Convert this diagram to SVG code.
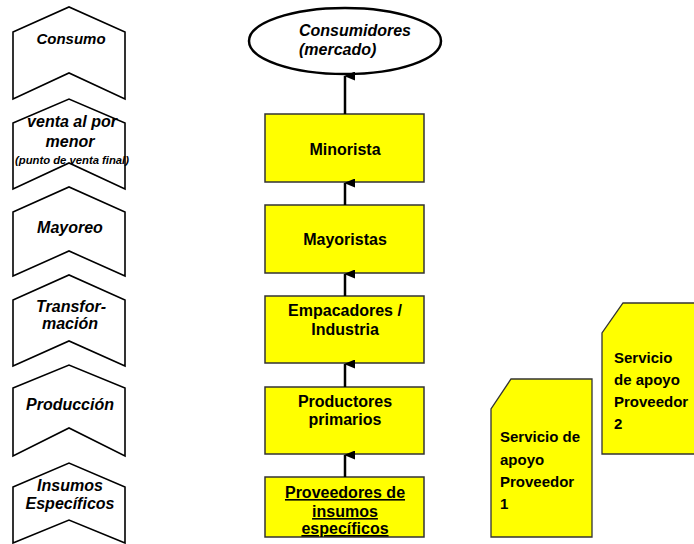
<svg xmlns="http://www.w3.org/2000/svg" width="694" height="544" viewBox="0 0 694 544">
<defs>
<marker id="ah" markerWidth="9" markerHeight="11" refX="4.5" refY="1" orient="auto" markerUnits="userSpaceOnUse" viewBox="0 0 9 11">
<path d="M0,11 L4.5,0 L9,11 Z" fill="#000"/>
</marker>
<style>
.chev{fill:#fff;stroke:#000;stroke-width:1.6;stroke-linejoin:miter}
.ct{font-family:"Liberation Sans",Arial,sans-serif;font-weight:bold;font-style:italic;font-size:16px;fill:#000;text-anchor:middle}
.ct15{font-size:15px}
.ctsm{font-size:10px}
.box{fill:#ffff00;stroke:#333;stroke-width:1.5}
.bt{font-family:"Liberation Sans",Arial,sans-serif;font-weight:bold;font-size:16px;fill:#000;text-anchor:middle}
.et{font-family:"Liberation Sans",Arial,sans-serif;font-weight:bold;font-style:italic;font-size:16px;fill:#000;text-anchor:start}
.st{font-family:"Liberation Sans",Arial,sans-serif;font-weight:bold;font-size:15px;fill:#000}
.svc{fill:#ffff00;stroke:#333;stroke-width:1.3}
.conn{stroke:#000;stroke-width:2.5;fill:none}
</style>
</defs>

<g id="chev-consumo">
<polygon class="chev" points="13,32 69,7 125,32 125,99 69,73 13,99"/>
<text class="ct ct15" x="71" y="44">Consumo</text>
</g>
<g id="chev-venta">
<polygon class="chev" points="13,123 69,99 125,123 125,189 69,163 13,189"/>
<text class="ct" x="72" y="127">venta al por</text>
<text class="ct" x="70" y="147">menor</text>
<text class="ct ctsm" x="72" y="164" textLength="114" lengthAdjust="spacingAndGlyphs">(punto de venta final)</text>
</g>
<g id="chev-mayoreo">
<polygon class="chev" points="13,212 69,187 125,212 125,276 69,251 13,276"/>
<text class="ct" x="70" y="233">Mayoreo</text>
</g>
<g id="chev-transformacion">
<polygon class="chev" points="13,300 69,275 125,300 125,366 69,341 13,366"/>
<text class="ct" x="71" y="312">Transfor-</text>
<text class="ct" x="70" y="329">mación</text>
</g>
<g id="chev-produccion">
<polygon class="chev" points="13,388 69,365 125,388 125,456 69,428 13,456"/>
<text class="ct" x="70" y="410">Producción</text>
</g>
<g id="chev-insumos">
<polygon class="chev" points="13,487 69,463 125,487 125,543 69,520 13,543"/>
<text class="ct" x="70" y="491">Insumos</text>
<text class="ct" x="70" y="509">Específicos</text>
</g>

<g id="consumidores">
<ellipse cx="345" cy="41" rx="96" ry="33" fill="#fff" stroke="#000" stroke-width="2.5"/>
<text class="et" x="299" y="36">Consumidores</text>
<text class="et" x="299" y="55">(mercado)</text>
</g>

<g id="minorista">
<rect class="box" x="265" y="114" width="159" height="68"/>
<text class="bt" x="345" y="155">Minorista</text>
</g>
<g id="mayoristas">
<rect class="box" x="265" y="205" width="159" height="68"/>
<text class="bt" x="345" y="245">Mayoristas</text>
</g>
<g id="empacadores">
<rect class="box" x="265" y="296" width="159" height="67"/>
<text class="bt" x="345" y="316">Empacadores /</text>
<text class="bt" x="345" y="335">Industria</text>
</g>
<g id="productores">
<rect class="box" x="265" y="387" width="159" height="67"/>
<text class="bt" x="345" y="407">Productores</text>
<text class="bt" x="345" y="425">primarios</text>
</g>
<g id="proveedores">
<rect class="box" x="265" y="477" width="159" height="60"/>
<text class="bt" x="345" y="498" text-decoration="underline">Proveedores de</text>
<text class="bt" x="345" y="517" text-decoration="underline">insumos</text>
<text class="bt" x="345" y="534" text-decoration="underline">específicos</text>
</g>

<g id="servicio2">
<polygon class="svc" points="623,303 700,303 700,454 602,454 602,333"/>
<text class="st" x="614" y="363">Servicio</text>
<text class="st" x="614" y="385">de apoyo</text>
<text class="st" x="614" y="407">Proveedor</text>
<text class="st" x="614" y="429">2</text>
</g>
<g id="servicio1">
<polygon class="svc" points="511,379 592,379 592,537 491,537 491,409"/>
<text class="st" x="500" y="442">Servicio de</text>
<text class="st" x="500" y="465">apoyo</text>
<text class="st" x="500" y="487">Proveedor</text>
<text class="st" x="500" y="509">1</text>
</g>

<g id="connectors">
<line class="conn" x1="345" y1="114" x2="345" y2="76" marker-end="url(#ah)"/>
<line class="conn" x1="345" y1="205" x2="345" y2="183" marker-end="url(#ah)"/>
<line class="conn" x1="345" y1="296" x2="345" y2="274" marker-end="url(#ah)"/>
<line class="conn" x1="345" y1="387" x2="345" y2="364" marker-end="url(#ah)"/>
<line class="conn" x1="345" y1="477" x2="345" y2="455" marker-end="url(#ah)"/>
</g>
</svg>
